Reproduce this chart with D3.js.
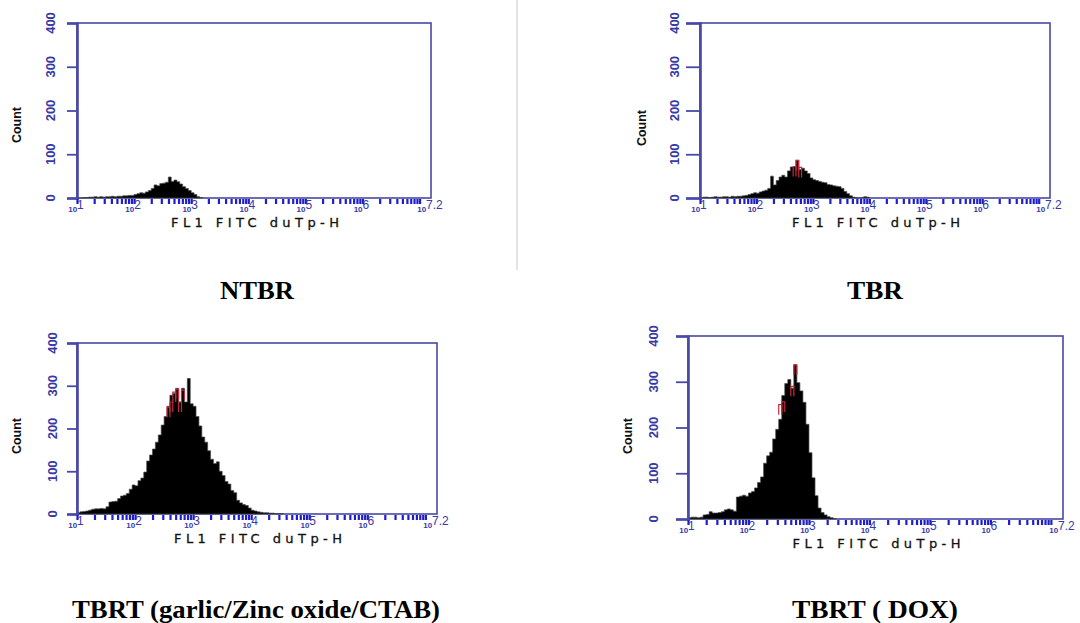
<!DOCTYPE html>
<html>
<head>
<meta charset="utf-8">
<script src="https://cdn.jsdelivr.net/npm/d3@7"></script>
<style>
  body { margin: 0; background: #fff; }
  svg { display: block; }
</style>
</head>
<body>
<svg id="fig" width="1080" height="623"></svg>
<script>
// ---- data -------------------------------------------------------------
// Histogram channels: log10(FL1) bins of equal width starting at 10^1
const binStart = 1.0;
const binWidth = 0.05;

const countTicks = [0, 100, 200, 300, 400];
const decadeExponents = ["1", "2", "3", "4", "5", "6", "7.2"];
const xTitle = "FL1 FITC duTp-H";
const yTitle = "Count";
const panelNames = ["NTBR", "TBR", "TBRT (garlic/Zinc oxide/CTAB)", "TBRT ( DOX)"];

const ntbrCounts = [0, 0, 1, 1, 2, 2, 3, 2, 3, 2, 3, 3, 4, 3, 4, 4, 5, 5, 6, 6,
  8, 10, 12, 11, 14, 17, 22, 30, 28, 33, 34, 36, 48, 38, 41, 37, 32, 26, 22, 17,
  12, 8, 3, 1];

const tbrCounts = [0, 2, 2, 1, 2, 3, 2, 2, 3, 3, 2, 4, 3, 4, 4, 5, 6, 8, 10, 12,
  11, 14, 16, 18, 22, 50, 30, 40, 48, 52, 48, 62, 71, 72, 86, 65, 68, 62, 56, 46,
  42, 40, 38, 36, 35, 31, 30, 28, 27, 26, 22, 15, 10, 5, 2, 1, 0, 1, 3, 2];

const garlicCounts = [3, 5, 6, 7, 9, 11, 12, 12, 13, 12, 17, 28, 29, 30, 36, 42, 44, 48, 58, 68,
  66, 78, 84, 98, 124, 138, 152, 168, 185, 208, 228, 252, 278, 282, 294, 262, 294, 262, 317, 258,
  252, 228, 206, 180, 168, 148, 128, 118, 122, 100, 90, 76, 70, 55, 50, 32, 26, 22, 20, 14,
  9, 7, 5, 4, 3, 3, 2, 2, 1, 1, 1];

const doxCounts = [3, 4, 4, 3, 4, 9, 10, 16, 13, 13, 14, 16, 20, 22, 20, 17, 48, 50, 52, 50,
  57, 60, 68, 80, 92, 122, 138, 146, 175, 196, 218, 270, 296, 305, 286, 337, 298, 280, 255, 207,
  145, 90, 51, 24, 14, 9, 5, 3, 1];

// Second (red) overlay trace: [log10 bin start, count]
const tbrRed = [[2.65, 72], [2.70, 86], [2.75, 70]];
const garlicRed = [[2.55, 250], [2.60, 262], [2.65, 285], [2.70, 292], [2.75, 262], [2.80, 290]];
const doxRed = [[2.50, 250], [2.55, 256], [2.70, 290], [2.75, 337]];

const series = [ntbrCounts, tbrCounts, garlicCounts, doxCounts];
const overlays = [[], tbrRed, garlicRed, doxRed];

// ---- layout -----------------------------------------------------------
const panels = [
  { left: 77,  right: 431,  top: 23,  bottom: 198, tick: 10, labelX: 51,  countX: 17,  countY: 125, capX: 257, capY: 299 },
  { left: 700, right: 1050, top: 23,  bottom: 198, tick: 14, labelX: 675, countX: 642, countY: 128, capX: 875, capY: 299 },
  { left: 77,  right: 437,  top: 343, bottom: 514, tick: 10, labelX: 53,  countX: 17,  countY: 436, capX: 256, capY: 618 },
  { left: 688, right: 1063, top: 336, bottom: 519, tick: 12, labelX: 654, countX: 628, countY: 436, capX: 875, capY: 618 }
];
const captionWidths = [74, 56, 368, 166];

const axisColor = "#4848a6";
const labelColor = "#3838a6";
const minorColor = "#1e1ecc";

const svg = d3.select("#fig");

// faint divider between the upper plots
svg.append("line")
  .attr("x1", 517).attr("x2", 517).attr("y1", 0).attr("y2", 270)
  .attr("stroke", "#e4e4e4").attr("stroke-width", 2);

panels.forEach((p, k) => {
  const g = svg.append("g");
  const x = d3.scaleLog().domain([10, Math.pow(10, 7.2)]).range([p.left, p.right]);
  const y = d3.scaleLinear().domain([0, 400]).range([p.bottom, p.top]);

  // frame
  g.append("rect")
    .attr("x", p.left).attr("y", p.top)
    .attr("width", p.right - p.left).attr("height", p.bottom - p.top)
    .attr("fill", "none").attr("stroke", axisColor).attr("stroke-width", 1.6);

  // histogram as a filled step outline
  const counts = series[k];
  const steps = counts.map((c, i) => ({ v: Math.pow(10, binStart + i * binWidth), c }));
  steps.push({ v: Math.pow(10, binStart + counts.length * binWidth), c: 0 });
  const area = d3.area()
    .x(d => x(d.v))
    .y0(y(0))
    .y1(d => y(d.c))
    .curve(d3.curveStepAfter);
  g.append("path")
    .datum(steps)
    .attr("d", area)
    .attr("fill", "#000")
    .attr("stroke", "#4a4a4a")
    .attr("stroke-width", 0.7);

  // red overlay trace
  g.append("g").selectAll("path").data(overlays[k]).join("path")
    .attr("d", d => {
      const x0 = x(Math.pow(10, d[0])), x1 = x(Math.pow(10, d[0] + binWidth));
      const yy = y(d[1]);
      return `M${x0},${yy + 10}V${yy}H${x1}V${yy + 10}`;
    })
    .attr("fill", "none").attr("stroke", "#c8283a").attr("stroke-width", 1.2);

  // y axis
  const yAxis = d3.axisLeft(y).tickValues(countTicks).tickSize(p.tick).tickFormat("");
  const ya = g.append("g").attr("transform", `translate(${p.left},0)`).call(yAxis);
  ya.select(".domain").attr("stroke", axisColor).attr("stroke-width", 2.6);
  ya.selectAll(".tick line").attr("stroke", axisColor).attr("stroke-width", 1.8);

  g.append("g").selectAll("text").data(countTicks).join("text")
    .attr("transform", d => `translate(${p.labelX + 4},${y(d)}) rotate(-90)`)
    .attr("text-anchor", "middle")
    .attr("font-family", "'Liberation Sans Narrow', 'Liberation Sans', sans-serif")
    .attr("font-weight", "bold")
    .attr("font-size", 13)
    .attr("fill", labelColor)
    .text(d => d);

  g.append("text")
    .attr("transform", `translate(${p.countX + 4},${p.countY}) rotate(-90)`)
    .attr("text-anchor", "middle")
    .attr("font-family", "'Liberation Sans Narrow', 'Liberation Sans', sans-serif")
    .attr("font-weight", "bold")
    .attr("font-size", 13)
    .attr("textLength", 36)
    .attr("lengthAdjust", "spacingAndGlyphs")
    .attr("fill", "#111")
    .text(yTitle);

  // x axis: log minor ticks below the baseline
  const minor = [];
  for (let e = 1; e <= 7; e++) {
    for (let m = 1; m <= 9; m++) {
      const v = m * Math.pow(10, e);
      if (v <= Math.pow(10, 7.2)) minor.push(v);
    }
  }
  const xAxis = d3.axisBottom(x).tickValues(minor).tickSize(5).tickFormat("");
  const xa = g.append("g").attr("transform", `translate(0,${p.bottom + 1})`).call(xAxis);
  xa.select(".domain").remove();
  xa.selectAll(".tick line").attr("stroke", minorColor).attr("stroke-width", 2.2);

  // decade labels: small "10" with the exponent beside it
  const lab = g.append("g").selectAll("text").data(decadeExponents).join("text")
    .attr("x", d => x(Math.pow(10, +d)) - 1)
    .attr("y", p.bottom + 14)
    .attr("text-anchor", "middle")
    .attr("font-family", "'Liberation Sans', Arial, sans-serif")
    .attr("fill", labelColor);
  lab.append("tspan").attr("font-size", 8).attr("font-weight", "bold").text("10");
  lab.append("tspan").attr("font-size", 12).attr("dy", -3).text(d => d);

  // axis title
  g.append("text")
    .attr("x", (p.left + p.right) / 2 + 1)
    .attr("y", p.bottom + 29)
    .attr("text-anchor", "middle")
    .attr("font-family", "'DejaVu Sans', sans-serif")
    .attr("font-size", 13)
    .attr("textLength", 168)
    .attr("lengthAdjust", "spacing")
    .attr("fill", "#111")
    .attr("stroke", "#111")
    .attr("stroke-width", 0.3)
    .text(xTitle);

  // panel caption
  svg.append("text")
    .attr("x", p.capX).attr("y", p.capY)
    .attr("text-anchor", "middle")
    .attr("font-family", "'Liberation Serif', 'Times New Roman', serif")
    .attr("font-weight", "bold")
    .attr("font-size", 26)
    .attr("textLength", captionWidths[k])
    .attr("lengthAdjust", "spacingAndGlyphs")
    .attr("fill", "#000")
    .text(panelNames[k]);
});
</script>
</body>
</html>
